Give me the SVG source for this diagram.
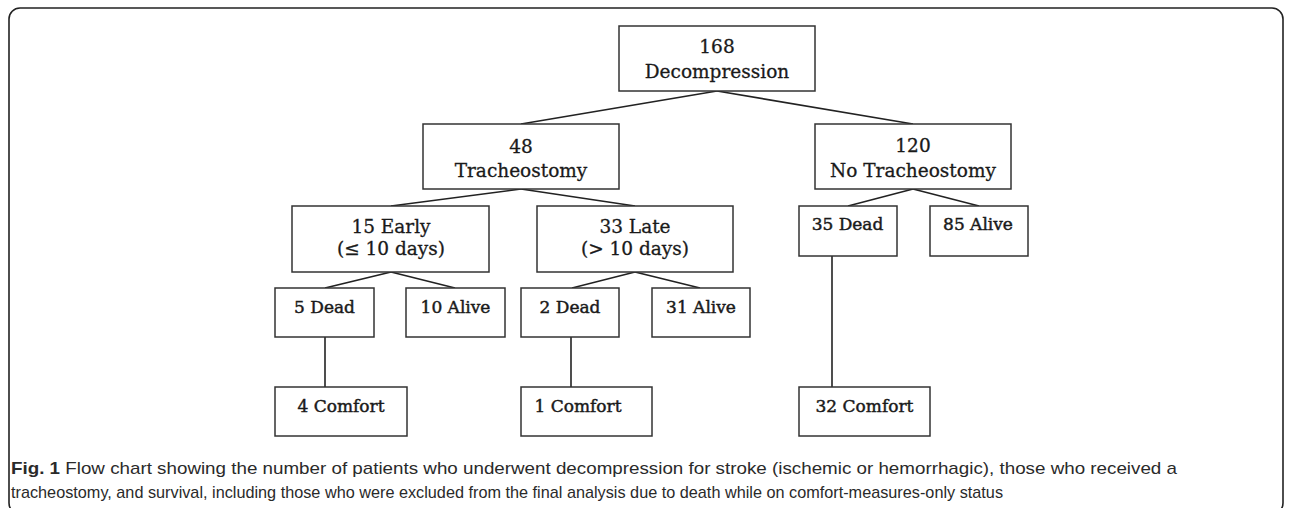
<svg xmlns="http://www.w3.org/2000/svg" width="1290" height="508" viewBox="0 0 1290 508">
<style>
.frame{fill:#fff;stroke:#222;stroke-width:1.6}
.box{fill:#fff;stroke:#333;stroke-width:1.5}
.t{font-family:"DejaVu Serif","Liberation Serif",serif;font-size:18.5px;fill:#1a1a1a;stroke:#1a1a1a;stroke-width:0.3;text-anchor:middle}
.s{font-family:"DejaVu Serif","Liberation Serif",serif;font-size:17px;fill:#1a1a1a;stroke:#1a1a1a;stroke-width:0.45;text-anchor:middle}
.conn line{stroke:#222;stroke-width:1.6}
.cap{font-family:"Liberation Sans","DejaVu Sans",sans-serif;font-size:17px;fill:#2a2a2a}
</style>
<rect class="frame" x="9" y="8" width="1274" height="506" rx="11"/>
<g id="connectors" class="conn">
<line x1="717" y1="91" x2="521" y2="124"/>
<line x1="717" y1="91" x2="913" y2="124"/>
<line x1="521" y1="189" x2="391" y2="206"/>
<line x1="521" y1="189" x2="635" y2="206"/>
<line x1="913" y1="189" x2="848" y2="206"/>
<line x1="913" y1="189" x2="979" y2="206"/>
<line x1="391" y1="272" x2="325" y2="288"/>
<line x1="391" y1="272" x2="455" y2="288"/>
<line x1="635" y1="272" x2="572" y2="288"/>
<line x1="635" y1="272" x2="700" y2="288"/>
<line x1="325" y1="337" x2="325" y2="387"/>
<line x1="571" y1="337" x2="571" y2="387"/>
<line x1="832" y1="256" x2="832" y2="387"/>
</g>
<g id="n168"><rect class="box" x="619" y="26" width="196" height="65"/><text class="t" x="717" y="53">168</text><text class="t" x="717" y="78">Decompression</text></g>
<g id="n48"><rect class="box" x="423" y="124" width="196" height="65"/><text class="t" x="521" y="153">48</text><text class="t" x="521" y="177">Tracheostomy</text></g>
<g id="n120"><rect class="box" x="815" y="124" width="196" height="65"/><text class="t" x="913" y="152">120</text><text class="t" x="913" y="177">No Tracheostomy</text></g>
<g id="early"><rect class="box" x="292" y="206" width="197" height="66"/><text class="t" x="391" y="233">15 Early</text><text class="t" x="391" y="255">(≤ 10 days)</text></g>
<g id="late"><rect class="box" x="537" y="206" width="196" height="66"/><text class="t" x="635" y="233">33 Late</text><text class="t" x="635" y="255">(&gt; 10 days)</text></g>
<g id="dead5"><rect class="box" x="275" y="288" width="99" height="49"/><text class="s" x="324.5" y="313">5 Dead</text></g>
<g id="alive10"><rect class="box" x="406" y="288" width="99" height="49"/><text class="s" x="455.5" y="313">10 Alive</text></g>
<g id="dead2"><rect class="box" x="521" y="288" width="98" height="49"/><text class="s" x="570" y="313">2 Dead</text></g>
<g id="alive31"><rect class="box" x="652" y="288" width="98" height="49"/><text class="s" x="701" y="313">31 Alive</text></g>
<g id="dead35"><rect class="box" x="799" y="206" width="98" height="50"/><text class="s" x="847.5" y="230">35 Dead</text></g>
<g id="alive85"><rect class="box" x="930" y="206" width="98" height="50"/><text class="s" x="978" y="230">85 Alive</text></g>
<g id="comfort4"><rect class="box" x="275" y="387" width="132" height="49"/><text class="s" x="341" y="412">4 Comfort</text></g>
<g id="comfort1"><rect class="box" x="521" y="387" width="131" height="49"/><text class="s" x="578" y="412">1 Comfort</text></g>
<g id="comfort32"><rect class="box" x="799" y="387" width="131" height="49"/><text class="s" x="864.5" y="412">32 Comfort</text></g>
<g id="caption">
<text class="cap" x="11" y="474" textLength="1166" lengthAdjust="spacingAndGlyphs"><tspan font-weight="bold">Fig. 1</tspan> Flow chart showing the number of patients who underwent decompression for stroke (ischemic or hemorrhagic), those who received a</text>
<text class="cap" x="11" y="498" textLength="992" lengthAdjust="spacingAndGlyphs">tracheostomy, and survival, including those who were excluded from the final analysis due to death while on comfort-measures-only status</text>
</g>
</svg>
